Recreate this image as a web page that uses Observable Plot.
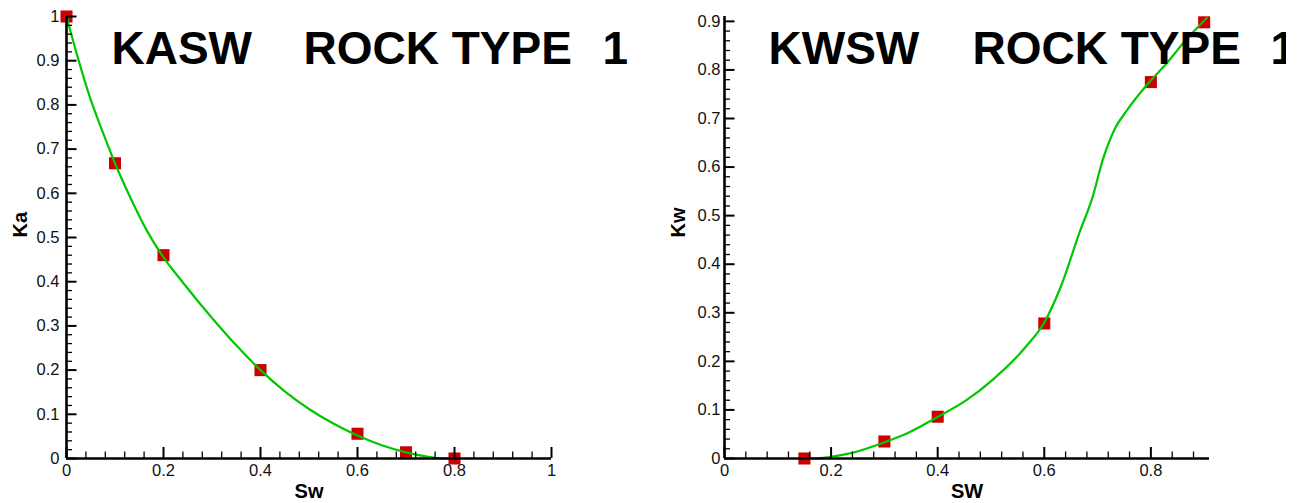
<!DOCTYPE html>
<html><head><meta charset="utf-8">
<script src="https://cdn.jsdelivr.net/npm/d3@7"></script>
<script src="https://cdn.jsdelivr.net/npm/@observablehq/plot@0.6"></script>
<style>
html,body{margin:0;padding:0;background:#fff;}
#wrap{position:relative;width:1302px;height:503px;overflow:hidden;}
#left{position:absolute;left:0;top:0;}
#right{position:absolute;left:651px;top:0;}
svg text{white-space:pre;}
</style></head><body><div id="wrap"><div id="left"></div><div id="right"></div></div>
<script>
// ---- Data ----
const kaPointSw = [0, 0.1, 0.2, 0.4, 0.6, 0.7, 0.8];
const kaPointKa = [1, 0.668, 0.46, 0.2, 0.056, 0.014, 0];
const kaCurveSw = [0, 0.021, 0.048, 0.076, 0.1, 0.134, 0.166, 0.2, 0.235, 0.3, 0.35, 0.4, 0.45, 0.5, 0.55, 0.6, 0.65, 0.7, 0.74, 0.77, 0.8];
const kaCurveKa = [1, 0.916, 0.818, 0.735, 0.668, 0.585, 0.515, 0.455, 0.405, 0.318, 0.256, 0.2, 0.152, 0.112, 0.079, 0.052, 0.03, 0.014, 0.005, 0.0005, 0];

const kwPointSw = [0.15, 0.3, 0.4, 0.6, 0.8, 0.9];
const kwPointKw = [0, 0.035, 0.086, 0.278, 0.775, 0.898];
const kwCurveSw = [0.15, 0.17, 0.197, 0.237, 0.299, 0.345, 0.399, 0.454, 0.503, 0.567, 0.6, 0.63, 0.667, 0.69, 0.71, 0.732, 0.754, 0.798, 0.829, 0.866, 0.905];
const kwCurveKw = [0, 0, 0.003, 0.011, 0.033, 0.053, 0.085, 0.12, 0.162, 0.232, 0.28, 0.351, 0.468, 0.536, 0.616, 0.678, 0.715, 0.776, 0.813, 0.862, 0.907];

const leftXTicks = [0, 0.2, 0.4, 0.6, 0.8, 1];
const leftYTicks = [0, 0.1, 0.2, 0.3, 0.4, 0.5, 0.6, 0.7, 0.8, 0.9, 1];
const rightXTicks = [0, 0.2, 0.4, 0.6, 0.8];
const rightYTicks = [0, 0.1, 0.2, 0.3, 0.4, 0.5, 0.6, 0.7, 0.8, 0.9];

const leftTitle = ["KASW", "ROCK TYPE", "1"];
const rightTitle = ["KWSW", "ROCK TYPE", "1"];

// ---- Drawing ----
const H = 503, MT = 16, MB = 45;
const FONT = "'Liberation Sans', Arial, Helvetica, sans-serif";
function zip(a, b) { return a.map((v, i) => ({x: v, y: b[i]})); }

function panel(o) {
  const innerW = o.width - o.marginLeft - o.marginRight;
  const innerH = H - MT - MB;
  const xk = (o.xDomain[1] - o.xDomain[0]) / innerW;
  const yk = (o.yDomain[1] - o.yDomain[0]) / innerH;
  const xMinor = d3.range(0, o.xDomain[1] + 1e-9, 0.04).filter(v => Math.abs(v / 0.2 - Math.round(v / 0.2)) > 1e-6);
  const yMinor = d3.range(0, o.yDomain[1] + 1e-9, 0.02).filter(v => Math.abs(v / 0.1 - Math.round(v / 0.1)) > 1e-6);
  const titleStyle = {frameAnchor: "top-left", dy: 47, lineAnchor: "bottom", textAnchor: "start", fontSize: 46, fontWeight: "bold", fill: "black"};
  return Plot.plot({
    width: o.width, height: H,
    marginLeft: o.marginLeft, marginRight: o.marginRight, marginTop: MT, marginBottom: MB,
    x: {domain: o.xDomain, axis: null},
    y: {domain: o.yDomain, axis: null},
    style: {fontFamily: FONT, fontSize: "16px", color: "#000", background: "white"},
    marks: [
      Plot.dot(o.points, {x: "x", y: "y", symbol: "square", r: 6.8, fill: "#cc0000", stroke: null}),
      Plot.line(o.curve, {x: "x", y: "y", stroke: "#00c800", strokeWidth: 2.2, curve: "monotone-x"}),
      Plot.ruleX(xMinor, {x: d => d, y1: 0, y2: 6.5 * yk, stroke: "black", strokeWidth: 1.3}),
      Plot.ruleX(o.xTicks, {x: d => d, y1: 0, y2: 11 * yk, stroke: "black", strokeWidth: 2}),
      Plot.ruleY(yMinor, {y: d => d, x1: 0, x2: 6 * xk, stroke: "black", strokeWidth: 1.3}),
      Plot.ruleY(o.yTicks, {y: d => d, x1: 0, x2: 10.5 * xk, stroke: "black", strokeWidth: 2}),
      Plot.ruleX([0], {y1: 0, y2: o.yDomain[1], stroke: "black", strokeWidth: 2.6}),
      Plot.ruleY([0], {x1: 0, x2: o.xDomain[1], stroke: "black", strokeWidth: 2.6}),
      Plot.text(o.xTicks, {x: d => d, y: 0, text: d => String(d), dy: 6, lineAnchor: "top", textAnchor: "middle", fontSize: 16.5, fill: "#111"}),
      Plot.text(o.yTicks, {x: 0, y: d => d, text: d => String(d), dx: -o.yPad, lineAnchor: "middle", textAnchor: "end", fontSize: 16.5, fill: "#111"}),
      Plot.text([o.xLabel], {frameAnchor: "bottom", dy: 39, lineAnchor: "bottom", fontSize: 20, fontWeight: "bold", fill: "black"}),
      Plot.text([o.yLabel], {frameAnchor: "left", dx: o.yLabelDx, rotate: -90, fontSize: 20, fontWeight: "bold", fill: "black"}),
      Plot.text([o.title[0]], {...titleStyle, dx: o.titleDx[0]}),
      Plot.text([o.title[1]], {...titleStyle, dx: o.titleDx[1]}),
      Plot.text([o.title[2]], {...titleStyle, dx: o.titleDx[2]})
    ]
  });
}

document.getElementById("left").append(panel({
  width: 651, marginLeft: 66, marginRight: 100,
  xDomain: [0, 1], yDomain: [0, 1],
  xTicks: leftXTicks, yTicks: leftYTicks,
  points: zip(kaPointSw, kaPointKa), curve: zip(kaCurveSw, kaCurveKa),
  xLabel: "Sw", yLabel: "Ka", yLabelDx: -46, yPad: 7,
  title: leftTitle, titleDx: [45, 237, 536]
}));

document.getElementById("right").append(panel({
  width: 635, marginLeft: 73, marginRight: 77,
  xDomain: [0, 0.91], yDomain: [0, 0.91],
  xTicks: rightXTicks, yTicks: rightYTicks,
  points: zip(kwPointSw, kwPointKw), curve: zip(kwCurveSw, kwCurveKw),
  xLabel: "SW", yLabel: "Kw", yLabelDx: -46, yPad: 4,
  title: rightTitle, titleDx: [44, 248, 546]
}));
</script></body></html>
